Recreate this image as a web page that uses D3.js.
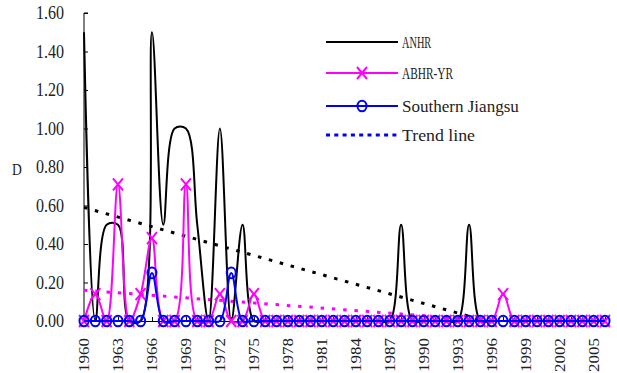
<!DOCTYPE html>
<html>
<head>
<meta charset="utf-8">
<script src="https://cdn.jsdelivr.net/npm/d3@7"></script>
<style>
  body { margin: 0; background: #fff; }
  svg { display: block; }
  .serif { font-family: "Liberation Serif", "Times New Roman", "DejaVu Serif", serif; }
</style>
</head>
<body>
<svg width="617" height="373"></svg>
<script>
// values
var years = [1960, 1961, 1962, 1963, 1964, 1965, 1966, 1967, 1968, 1969,
             1970, 1971, 1972, 1973, 1974, 1975, 1976, 1977, 1978, 1979,
             1980, 1981, 1982, 1983, 1984, 1985, 1986, 1987, 1988, 1989,
             1990, 1991, 1992, 1993, 1994, 1995, 1996, 1997, 1998, 1999,
             2000, 2001, 2002, 2003, 2004, 2005, 2006];

var anhr = [1.5, 0, 0.5, 0.5, 0, 0, 1.5, 0.5, 1.0, 1.0,
            0.5, 0, 1.0, 0, 0.5, 0, 0, 0, 0, 0,
            0, 0, 0, 0, 0, 0, 0, 0, 0.5, 0,
            0, 0, 0, 0, 0.5, 0, 0, 0, 0, 0,
            0, 0, 0, 0, 0, 0, 0];

var abhr = [0, 0.14, 0, 0.71, 0, 0.14, 0.43, 0, 0, 0.71,
            0, 0, 0.14, 0, 0, 0.14, 0, 0, 0, 0,
            0, 0, 0, 0, 0, 0, 0, 0, 0, 0,
            0, 0, 0, 0, 0, 0, 0, 0.14, 0, 0,
            0, 0, 0, 0, 0, 0, 0];

var jiangsu = [0, 0, 0, 0, 0, 0, 0.25, 0, 0, 0,
               0, 0, 0, 0.25, 0, 0, 0, 0, 0, 0,
               0, 0, 0, 0, 0, 0, 0, 0, 0, 0,
               0, 0, 0, 0, 0, 0, 0, 0, 0, 0,
               0, 0, 0, 0, 0, 0, 0];

// trend lines, end values at first and last year
var trendYears = [1960, 2006];
var trendAnhr = [0.59, -0.175];
var trendAbhr = [0.16, -0.043];

var yTicks = [0, 0.2, 0.4, 0.6, 0.8, 1.0, 1.2, 1.4, 1.6];
var xLabelYears = [1960, 1963, 1966, 1969, 1972, 1975, 1978, 1981, 1984,
                   1987, 1990, 1993, 1996, 1999, 2002, 2005];
var legendNames = ["ANHR", "ABHR-YR", "Southern Jiangsu", "Trend line"];

(function(){
    var svg = d3.select("svg");
    var squeeze = 0.82;

    var x = d3.scaleLinear().domain([1960, 2006]).range([84, 605]);
    var y = d3.scaleLinear().domain([0, 1.6]).range([321, 13]);

    var curve = d3.curveCatmullRom.alpha(0.5);

    svg.append("defs").append("clipPath").attr("id", "plot")
        .append("rect").attr("x", 84).attr("y", 0).attr("width", 530).attr("height", 322);

    // axes
    var yAxis = svg.append("g").attr("transform", "translate(84,0)")
        .call(d3.axisRight(y).tickValues(yTicks).tickSize(4).tickFormat(""));
    yAxis.select(".domain").attr("d", "M4," + y(1.6) + "H0V" + y(0));
    yAxis.selectAll("line,path").attr("stroke", "#000");

    var xAxis = svg.append("g").attr("transform", "translate(0," + y(0) + ")")
        .call(d3.axisTop(x).tickValues(years).tickSize(4).tickFormat("").tickSizeOuter(0));
    xAxis.selectAll("line,path").attr("stroke", "#000");

    svg.append("g").selectAll("text")
        .data(yTicks)
        .enter().append("text")
        .attr("class", "serif")
        .attr("transform", function(d) { return "translate(64," + y(d) + ") scale(0.78,1)"; })
        .attr("dy", "0.35em")
        .attr("text-anchor", "end")
        .attr("textLength", 36)
        .attr("lengthAdjust", "spacingAndGlyphs")
        .attr("font-size", 18)
        .attr("fill", "#222")
        .text(function(d) { return d.toFixed(2); });

    svg.append("g").selectAll("text")
        .data(xLabelYears)
        .enter().append("text")
        .attr("class", "serif")
        .attr("transform", function(d) { return "translate(" + x(d) + ",338) scale(" + squeeze + ",1) rotate(-90)"; })
        .attr("dy", "0.35em")
        .attr("text-anchor", "end")
        .attr("font-size", 17)
        .attr("fill", "#222")
        .text(function(d) { return d; });

    svg.append("text")
        .attr("class", "serif")
        .attr("transform", "translate(17,169) scale(0.8,1)")
        .attr("dy", "0.35em")
        .attr("text-anchor", "middle")
        .attr("font-size", 17)
        .attr("fill", "#222")
        .text("D");

    // trend lines
    var trendLine = d3.line()
        .x(function(d, i) { return x(trendYears[i]); })
        .y(function(d) { return y(d); });

    var trends = svg.append("g").attr("clip-path", "url(#plot)");
    trends.append("path").attr("d", trendLine(trendAnhr))
        .attr("fill", "none").attr("stroke", "#000")
        .attr("stroke-width", 3).attr("stroke-dasharray", "3.5 7.8");
    trends.append("path").attr("d", trendLine(trendAbhr))
        .attr("fill", "none").attr("stroke", "#ff00ff")
        .attr("stroke-width", 3).attr("stroke-dasharray", "3.5 7.8");

    var seriesLine = d3.line()
        .x(function(d, i) { return x(years[i]); })
        .y(function(d) { return y(d); })
        .curve(curve);

    function drawSeries(values, color) {
        svg.append("path")
            .attr("d", seriesLine(values))
            .attr("fill", "none")
            .attr("stroke", color)
            .attr("stroke-width", 2)
            .attr("stroke-linejoin", "round");
    }

    drawSeries(anhr, "#000");
    drawSeries(abhr, "#ff00ff");

    var cross = "M-5,-6L5,6M-5,6L5,-6";
    svg.append("g").selectAll("path")
        .data(abhr)
        .enter().append("path")
        .attr("transform", function(d, i) { return "translate(" + x(years[i]) + "," + y(d) + ")"; })
        .attr("d", cross)
        .attr("fill", "none")
        .attr("stroke", "#ff00ff")
        .attr("stroke-width", 2);

    drawSeries(jiangsu, "#0000ff");

    svg.append("g").selectAll("ellipse")
        .data(jiangsu)
        .enter().append("ellipse")
        .attr("cx", function(d, i) { return x(years[i]); })
        .attr("cy", function(d) { return y(d); })
        .attr("rx", 4.5)
        .attr("ry", 5.3)
        .attr("fill", "none")
        .attr("stroke", "#0000ff")
        .attr("stroke-width", 2);

    // legend
    var legendY = [42, 73, 106, 135];
    var legend = svg.append("g");
    legendNames.forEach(function(name, i) {
        var ly = legendY[i];
        var line = legend.append("line")
            .attr("x1", 326).attr("x2", 398)
            .attr("y1", ly).attr("y2", ly);
        if (i == 0) line.attr("stroke", "#000").attr("stroke-width", 2);
        if (i == 1) {
            line.attr("stroke", "#ff00ff").attr("stroke-width", 2);
            legend.append("path").attr("transform", "translate(362," + ly + ")")
                .attr("d", cross).attr("fill", "none")
                .attr("stroke", "#ff00ff").attr("stroke-width", 2);
        }
        if (i == 2) {
            line.attr("stroke", "#0000ff").attr("stroke-width", 2);
            legend.append("ellipse").attr("cx", 362).attr("cy", ly)
                .attr("rx", 4.5).attr("ry", 5.3).attr("fill", "none")
                .attr("stroke", "#0000ff").attr("stroke-width", 2);
        }
        if (i == 3) line.attr("stroke", "#0000ff").attr("stroke-width", 3)
            .attr("stroke-dasharray", "4 4.3");

        // the legend font is monospaced in the original, about 7.3px a character
        legend.append("text")
            .attr("class", "serif")
            .attr("transform", "translate(402," + ly + ") scale(" + squeeze + ",1)")
            .attr("dy", "0.35em")
            .attr("font-size", 16)
            .attr("textLength", name.length * 7.3 / squeeze)
            .attr("lengthAdjust", "spacingAndGlyphs")
            .attr("fill", "#222")
            .text(name);
    });
})();
</script>
</body>
</html>
